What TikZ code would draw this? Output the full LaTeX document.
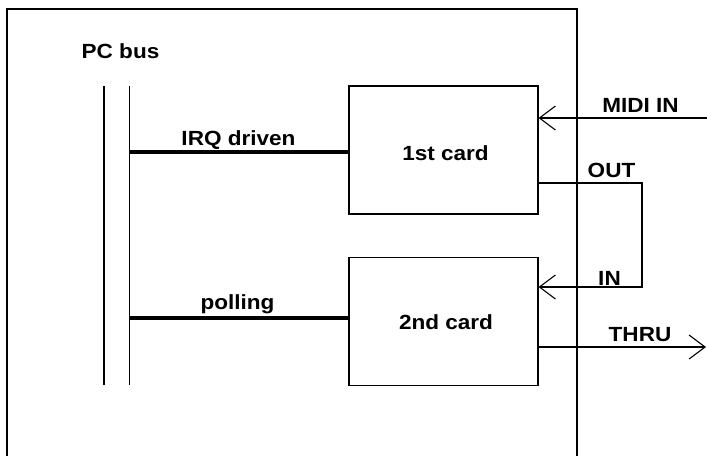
\documentclass[tikz,border=0pt]{standalone}
\usepackage{fontspec}
\setsansfont{Liberation Sans}[FakeStretch=1.1]
\usetikzlibrary{arrows.meta}
\begin{document}
\begin{tikzpicture}[x=1pt,y=-1pt,
  thin line/.style={line width=1.1pt},
  thick line/.style={line width=3.2pt},
  card/.style={draw,line width=1.1pt,minimum width=189pt,minimum height=128pt,inner sep=0pt},
  lbl/.style={font=\sffamily\bfseries\fontsize{20.5}{22}\selectfont,anchor=base,inner sep=0pt},
  barb/.style={-{Straight Barb[length=16pt,width=24pt,line width=1.1pt]}},
  ]
\useasboundingbox (0,0) rectangle (707,456);
\fill[white] (0,0) rectangle (707,456);
% outer frame (open at the bottom)
\coordinate (fbl) at (7,456);
\coordinate (ftl) at (7,9);
\coordinate (ftr) at (577,9);
\coordinate (fbr) at (577,456);
\draw[thin line] (fbl) -- (ftl) -- (ftr) -- (fbr);
% bus lines
\coordinate (b1t) at (104,86);
\coordinate (b1b) at (104,385);
\coordinate (b2t) at (129.5,86);
\coordinate (b2b) at (129.5,385);
\draw[thin line] (b1t) -- (b1b);
\draw[thin line] (b2t) -- (b2b);
\node[lbl] (pcbus) at (120.5,58) {PC bus};
% cards
\node[card] (c1) at (443.5,150) {};
\node[card] (c2) at (443.5,321.5) {};
\node[lbl] (c1t) at (445.5,160) {1st card};
\node[lbl] (c2t) at (446,329) {2nd card};
% bus connections
\coordinate (irq) at (129.5,152);
\coordinate (pol) at (129.5,318);
\draw[thick line] (irq) -- (irq -| c1.west);
\draw[thick line] (pol) -- (pol -| c2.west);
\node[lbl] (irqt) at (238.5,145) {IRQ driven};
\node[lbl] (polt) at (237.5,309) {polling};
% MIDI connections
\coordinate (midiin) at (707,118);
\draw[thin line,barb] (midiin) -- (midiin -| c1.east);
\node[lbl] (midit) at (640.5,112) {MIDI IN};
\coordinate (outc1) at (642,183);
\coordinate (outc2) at (642,287);
\draw[thin line,barb] (outc1 -| c1.east) -- (outc1) -- (outc2) -- (outc2 -| c2.east);
\node[lbl] (outt) at (611.5,177) {OUT};
\node[lbl] (int) at (609.5,285) {IN};
\coordinate (thru) at (706,347);
\draw[thin line,barb] (thru -| c2.east) -- (thru);
\node[lbl] (thrut) at (640,341) {THRU};
\end{tikzpicture}
\end{document}
